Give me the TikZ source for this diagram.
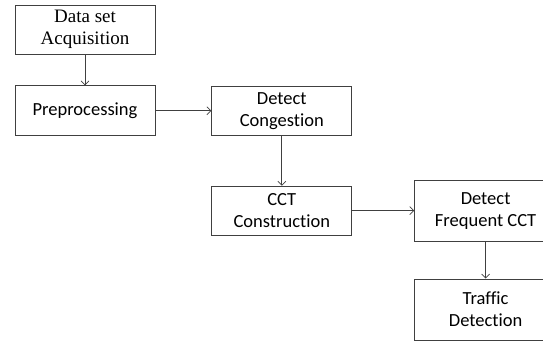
\documentclass[tikz,border=0pt]{standalone}
\usepackage{fontspec}
\setmainfont{Liberation Serif}
\newfontfamily\calibri[Ligatures=NoCommon]{Carlito}
\usetikzlibrary{positioning,arrows.meta}

\begin{document}
\begin{tikzpicture}[
  >={Straight Barb[length=4pt,width=8pt]},
  box/.style={draw=black!75, line width=0.8pt, fill=white, align=center,
              minimum width=140pt, minimum height=49pt, inner sep=2pt,
              font=\calibri\fontsize{18.5}{22}\selectfont},
  bigbox/.style={box, minimum width=142pt, minimum height=61pt},
  arr/.style={->, line width=0.7pt, color=black!75},
]
\useasboundingbox (0,0) rectangle (543pt,-341pt);
\clip (0,0) rectangle (543pt,-341pt);

\node[box, font=\fontsize{19}{22}\selectfont] (acq) at (85pt,-29.5pt)
  {Data set\\Acquisition};
\node[box, minimum height=50pt, below=31pt of acq] (prep) {Preprocessing};
\node[box, right=56pt of prep] (cong) {Detect\\Congestion};
\node[box, below=50pt of cong] (cct) {CCT\\Construction};
\node[bigbox, right=62pt of cct] (freq) {Detect\\Frequent CCT};
\node[bigbox, below=37pt of freq] (traf) {Traffic\\Detection};

\draw[arr] (acq)--(prep);
\draw[arr] (prep)--(cong);
\draw[arr] (cong)--(cct);
\draw[arr] (cct)--(freq);
\draw[arr] (freq)--(traf);
\end{tikzpicture}
\end{document}
